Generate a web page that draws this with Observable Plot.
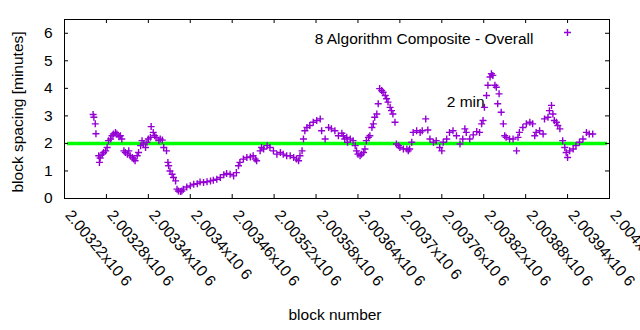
<!DOCTYPE html>
<html><head><meta charset="utf-8">
<script src="https://cdn.jsdelivr.net/npm/d3@7"></script>
<script src="https://cdn.jsdelivr.net/npm/@observablehq/plot@0.6"></script>
<style>
html,body{margin:0;padding:0;background:#fff;}
#chart svg{display:block;}
</style>
</head><body><div id="chart"></div>
<script>
const blocks = [
2003261,2003262,2003264,2003265,2003269,2003270,2003271,2003274,2003276,2003279,
2003281,2003283,2003286,2003288,2003290,2003293,2003295,2003298,2003300,2003302,
2003305,2003307,2003310,2003312,2003314,2003317,2003319,2003321,2003324,2003326,
2003329,2003331,2003333,2003336,2003338,2003340,2003343,2003344,2003347,2003349,
2003351,2003355,2003357,2003360,2003362,2003366,2003368,2003369,2003371,2003374,
2003376,2003379,2003381,2003383,2003386,2003388,2003390,2003395,2003400,2003405,
2003410,2003414,2003419,2003424,2003429,2003433,2003438,2003443,2003448,2003452,
2003457,2003462,2003466,2003469,2003471,2003476,2003481,2003486,2003490,2003493,
2003495,2003500,2003502,2003505,2003510,2003514,2003519,2003524,2003529,2003533,
2003538,2003543,2003548,2003552,2003555,2003557,2003560,2003562,2003564,2003567,
2003571,2003576,2003581,2003586,2003588,2003593,2003598,2003602,2003607,2003612,
2003617,2003619,2003621,2003624,2003625,2003629,2003633,2003636,2003638,2003640,
2003643,2003645,2003648,2003650,2003652,2003655,2003657,2003660,2003662,2003664,
2003667,2003669,2003671,2003674,2003676,2003679,2003681,2003683,2003686,2003688,
2003690,2003693,2003695,2003698,2003700,2003705,2003710,2003712,2003714,2003717,
2003719,2003724,2003729,2003732,2003737,2003740,2003743,2003748,2003752,2003757,
2003760,2003762,2003767,2003771,2003776,2003781,2003786,2003790,2003793,2003795,
2003800,2003805,2003810,2003814,2003817,2003819,2003821,2003824,2003826,2003829,
2003831,2003833,2003836,2003838,2003840,2003842,2003845,2003848,2003850,2003852,
2003857,2003862,2003867,2003869,2003871,2003876,2003881,2003886,2003890,2003893,
2003895,2003900,2003905,2003907,2003912,2003914,2003917,2003919,2003921,2003924,
2003926,2003929,2003933,2003936,2003938,2003940,2003943,2003948,2003952,2003957,
2003962,2003967,2003971,2003976
];
const spacing = [
3.05,2.95,2.71,2.35,1.55,1.31,1.47,1.61,1.67,1.73,
1.85,2.10,2.16,2.28,2.34,2.40,2.34,2.24,2.28,2.16,
1.73,1.67,1.61,1.73,1.55,1.49,1.43,1.37,1.55,1.67,
1.92,2.10,1.98,1.85,2.04,2.16,2.22,2.61,2.40,2.28,
2.22,2.10,2.16,2.12,1.85,1.73,1.31,1.19,1.00,0.88,
0.76,0.64,0.34,0.27,0.25,0.27,0.34,0.42,0.46,0.52,
0.54,0.60,0.58,0.61,0.64,0.66,0.70,0.76,0.86,0.91,
0.88,0.82,0.94,1.19,1.31,1.43,1.49,1.51,1.55,1.43,
1.37,1.73,1.85,1.80,1.92,1.85,1.73,1.61,1.67,1.61,
1.55,1.55,1.49,1.43,1.37,1.55,1.73,2.16,2.46,2.58,
2.65,2.77,2.83,2.89,2.46,2.16,2.58,2.53,2.46,2.28,
2.37,2.28,2.16,2.22,2.04,2.16,2.10,1.92,1.73,1.61,
1.55,1.61,1.67,1.80,2.10,2.22,2.28,2.58,2.71,2.95,
3.07,3.44,3.99,3.92,3.86,3.74,3.62,3.50,3.31,3.19,
3.07,2.77,1.98,1.92,1.85,1.80,1.80,1.73,1.80,2.04,
2.40,2.46,2.40,2.46,2.89,2.49,2.16,2.04,2.10,1.85,
1.73,2.04,2.16,2.40,2.46,2.28,1.98,2.16,2.53,2.40,
2.16,2.31,2.43,2.40,2.71,2.83,3.31,3.74,4.11,4.41,
4.53,4.47,4.11,4.04,3.44,3.80,3.13,2.71,2.28,2.22,
2.16,2.16,1.73,2.22,2.40,2.58,2.71,2.77,2.71,2.28,
2.40,2.46,2.34,2.89,2.95,3.19,3.38,3.07,2.83,2.77,
2.65,2.53,2.10,1.85,1.67,1.49,1.73,1.80,1.92,2.04,
2.16,2.40,2.34,2.34
];
const xTicks = [2003220,2003280,2003340,2003400,2003460,2003520,2003580,2003640,2003700,2003760,2003820,2003880,2003940,2004000];
const xTickLabels = ["2.00322x10 6","2.00328x10 6","2.00334x10 6","2.0034x10 6","2.00346x10 6","2.00352x10 6","2.00358x10 6","2.00364x10 6","2.0037x10 6","2.00376x10 6","2.00382x10 6","2.00388x10 6","2.00394x10 6","2.004x10 6"];
const yTicks = [0,1,2,3,4,5,6];
const targetSpacing = [2];
const seriesLabel = "8 Algorithm Composite - Overall";
const targetLabel = "2 min";
const targetLabelBlock = 2003767;
const targetLabelValue = 3.5;
const xTitle = "block number";
const yTitle = "block spacing [minutes]";

const table = blocks.map((b, i) => ({block: b, spacing: spacing[i]}));
const plusSymbol = {draw(ctx) { const r = 3.5; ctx.moveTo(-r, 0); ctx.lineTo(r, 0); ctx.moveTo(0, -r); ctx.lineTo(0, r); }};
const purple = "#9400d3";
const FONT = 15.5;

const chart = Plot.plot({
  width: 640, height: 330,
  marginLeft: 64, marginRight: 31, marginTop: 19, marginBottom: 132,
  style: {fontFamily: "'Liberation Sans', Arial, sans-serif", fontSize: FONT + "px", color: "#000", background: "#fff"},
  x: {domain: [2003220, 2004000]},
  y: {domain: [0, 6.5]},
  marks: [
    Plot.axisY(yTicks, {tickSize: 0, tickPadding: 12, fontSize: FONT, label: null}),
    Plot.axisX([], {label: null, tickSize: 0}),
    Plot.ruleY(targetSpacing, {stroke: "#00ff00", strokeWidth: 3.5, insetLeft: 3, insetRight: 2}),
    Plot.dot(table, {x: "block", y: "spacing", symbol: plusSymbol, stroke: purple, fill: "none", strokeWidth: 1.4}),
    Plot.tickX(xTicks, {x: d => d, insetTop: 175, stroke: "#000"}),
    Plot.tickX(xTicks, {x: d => d, insetBottom: 175, stroke: "#000"}),
    Plot.tickY(yTicks, {y: d => d, insetRight: 541, stroke: "#000"}),
    Plot.tickY(yTicks, {y: d => d, insetLeft: 541, stroke: "#000"}),
    Plot.frame({stroke: "#000"}),
    Plot.text(xTicks, {x: d => d, text: (d, i) => xTickLabels[i], frameAnchor: "bottom", rotate: 50, textAnchor: "start", lineAnchor: "bottom", dx: 0, dy: 17, fontSize: FONT}),
    Plot.text([targetLabel], {x: () => targetLabelBlock, y: () => targetLabelValue, textAnchor: "start", fontSize: FONT}),
    Plot.text([seriesLabel], {frameAnchor: "top-right", textAnchor: "end", dx: -76, dy: 13, fontSize: FONT}),
    Plot.dot([seriesLabel], {frameAnchor: "top-right", dx: -42, dy: 13, symbol: plusSymbol, stroke: purple, fill: "none", strokeWidth: 1.4}),
    Plot.text([xTitle], {frameAnchor: "bottom", dx: -2, dy: 121, fontSize: FONT}),
    Plot.text([yTitle], {frameAnchor: "left", dx: -46, dy: 3, rotate: 270, textAnchor: "middle", fontSize: FONT})
  ]
});
document.getElementById("chart").appendChild(chart);
</script>
</body></html>
